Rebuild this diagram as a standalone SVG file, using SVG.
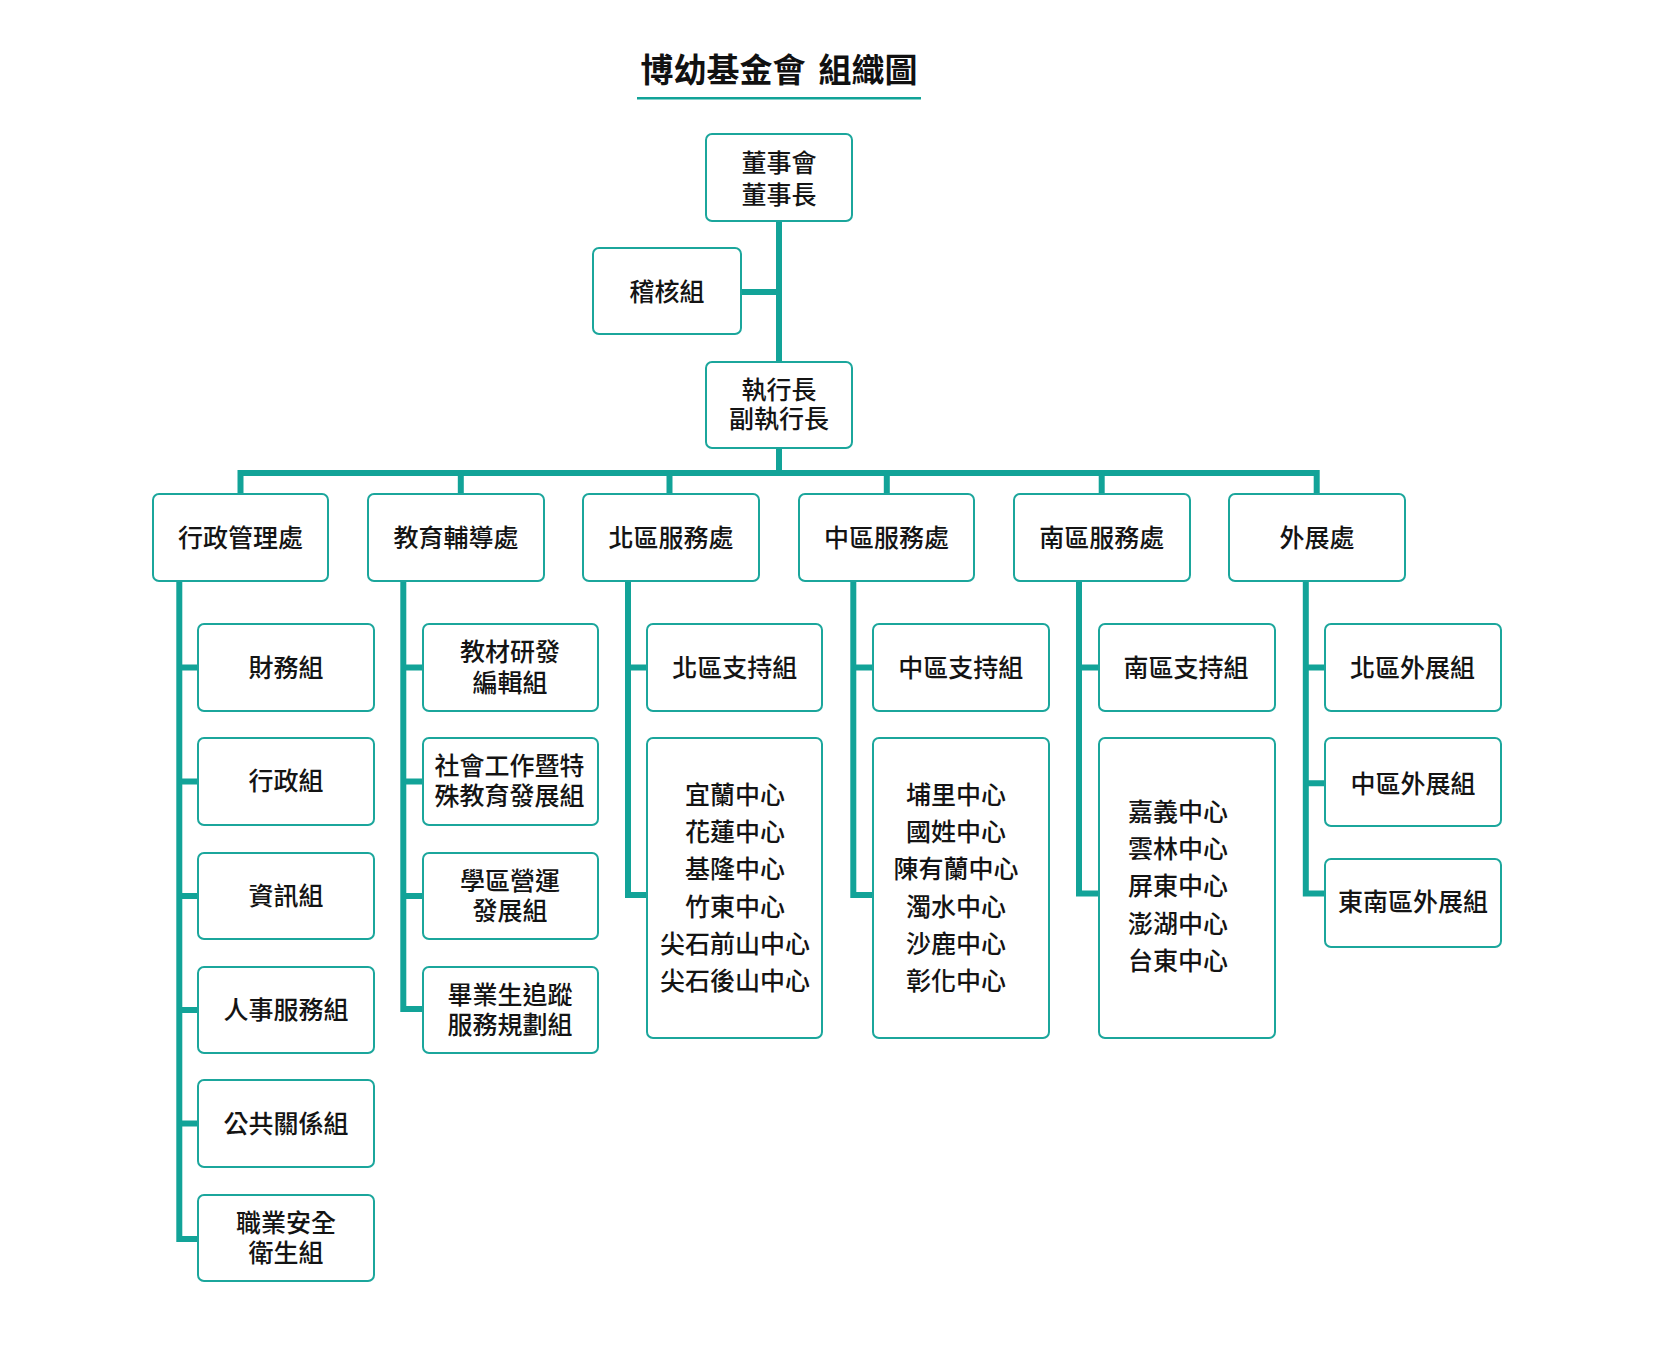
<svg xmlns="http://www.w3.org/2000/svg" width="1654" height="1364" viewBox="0 0 1654 1364">
<style>
.bg{fill:#ffffff}
.box{fill:#ffffff;stroke:#1ba69c;stroke-width:2}
.ln{fill:none;stroke:#12a398;stroke-width:6;stroke-linejoin:miter;stroke-linecap:butt}
.t{font-family:"Noto Sans CJK TC","Noto Sans CJK SC",sans-serif;font-size:25px;font-weight:500;fill:#141414;text-anchor:middle}
.title{font-family:"Noto Sans CJK TC","Noto Sans CJK SC",sans-serif;font-size:33px;font-weight:700;fill:#111111}
</style>
<rect class="bg" x="0" y="0" width="1654" height="1364"/>

<g id="title">
<text class="title" y="81.5"><tspan x="640.5">博幼基金會</tspan><tspan x="818.5">組織圖</tspan></text>
<rect x="637" y="97" width="284" height="2.5" fill="#12a398"/>
</g>

<g id="connectors">
<path class="ln" d="M779,222 V473"/>
<path class="ln" d="M742,292 H779"/>
<path class="ln" d="M240.5,494 V473 H1316.7 V494"/>
<path class="ln" d="M460.8,473 V494"/>
<path class="ln" d="M669.5,473 V494"/>
<path class="ln" d="M886.8,473 V494"/>
<path class="ln" d="M1101.7,473 V494"/>
<!-- col1 -->
<path class="ln" d="M179.3,582 V1239 H198"/>
<path class="ln" d="M179.3,667.5 H198 M179.3,781.5 H198 M179.3,896 H198 M179.3,1010 H198 M179.3,1123.5 H198"/>
<!-- col2 -->
<path class="ln" d="M403.3,582 V1009 H422"/>
<path class="ln" d="M403.3,667.5 H422 M403.3,781.5 H422 M403.3,896 H422"/>
<!-- col3 -->
<path class="ln" d="M628,582 V895 H646"/>
<path class="ln" d="M628,667.5 H646"/>
<!-- col4 -->
<path class="ln" d="M853.3,582 V895 H872"/>
<path class="ln" d="M853.3,667.5 H872"/>
<!-- col5 -->
<path class="ln" d="M1079,582 V893.5 H1098"/>
<path class="ln" d="M1079,667.5 H1098"/>
<!-- col6 -->
<path class="ln" d="M1305.8,582 V893.5 H1324"/>
<path class="ln" d="M1305.8,667.5 H1324 M1305.8,783.3 H1324"/>
</g>

<g id="n-board"><rect class="box" x="706" y="134" width="146" height="87" rx="6"/><text class="t" x="779"><tspan x="779" y="171.8">董事會</tspan><tspan x="779" y="203.5">董事長</tspan></text></g>
<g id="n-audit"><rect class="box" x="593" y="248" width="148" height="86" rx="6"/><text class="t" x="667" y="300.5">稽核組</text></g>
<g id="n-ceo"><rect class="box" x="706" y="362" width="146" height="86" rx="6"/><text class="t"><tspan x="779" y="398.5">執行長</tspan><tspan x="779" y="428">副執行長</tspan></text></g>

<g id="n-admin"><rect class="box" x="153" y="494" width="175" height="87" rx="6"/><text class="t" x="240.5" y="547">行政管理處</text></g>
<g id="n-edu"><rect class="box" x="368" y="494" width="176" height="87" rx="6"/><text class="t" x="456" y="547">教育輔導處</text></g>
<g id="n-north"><rect class="box" x="583" y="494" width="176" height="87" rx="6"/><text class="t" x="671" y="547">北區服務處</text></g>
<g id="n-central"><rect class="box" x="799" y="494" width="175" height="87" rx="6"/><text class="t" x="886.5" y="547">中區服務處</text></g>
<g id="n-south"><rect class="box" x="1014" y="494" width="176" height="87" rx="6"/><text class="t" x="1101.7" y="547">南區服務處</text></g>
<g id="n-ext"><rect class="box" x="1229" y="494" width="176" height="87" rx="6"/><text class="t" x="1317" y="547">外展處</text></g>

<g id="n-finance"><rect class="box" x="198" y="624" width="176" height="87" rx="6"/><text class="t" x="286" y="676.5">財務組</text></g>
<g id="n-adm"><rect class="box" x="198" y="738" width="176" height="87" rx="6"/><text class="t" x="286" y="789.5">行政組</text></g>
<g id="n-it"><rect class="box" x="198" y="853" width="176" height="86" rx="6"/><text class="t" x="286" y="904.5">資訊組</text></g>
<g id="n-hr"><rect class="box" x="198" y="967" width="176" height="86" rx="6"/><text class="t" x="286" y="1018.5">人事服務組</text></g>
<g id="n-pr"><rect class="box" x="198" y="1080" width="176" height="87" rx="6"/><text class="t" x="286" y="1133.2">公共關係組</text></g>
<g id="n-safety"><rect class="box" x="198" y="1195" width="176" height="86" rx="6"/><text class="t"><tspan x="286" y="1232">職業安全</tspan><tspan x="286" y="1262">衛生組</tspan></text></g>

<g id="n-material"><rect class="box" x="423" y="624" width="175" height="87" rx="6"/><text class="t"><tspan x="510" y="661.2">教材研發</tspan><tspan x="510" y="692">編輯組</tspan></text></g>
<g id="n-social"><rect class="box" x="423" y="738" width="175" height="87" rx="6"/><text class="t"><tspan x="509.5" y="774.5">社會工作暨特</tspan><tspan x="509.5" y="805">殊教育發展組</tspan></text></g>
<g id="n-district"><rect class="box" x="423" y="853" width="175" height="86" rx="6"/><text class="t"><tspan x="510" y="889.5">學區營運</tspan><tspan x="510" y="919.5">發展組</tspan></text></g>
<g id="n-grad"><rect class="box" x="423" y="967" width="175" height="86" rx="6"/><text class="t"><tspan x="510" y="1003.5">畢業生追蹤</tspan><tspan x="510" y="1033.5">服務規劃組</tspan></text></g>

<g id="n-north-support"><rect class="box" x="647" y="624" width="175" height="87" rx="6"/><text class="t" x="734.7" y="676.5">北區支持組</text></g>
<g id="n-north-centers"><rect class="box" x="647" y="738" width="175" height="300" rx="6"/><text class="t"><tspan x="735" y="803.5">宜蘭中心</tspan><tspan x="735" y="840.8">花蓮中心</tspan><tspan x="735" y="878.2">基隆中心</tspan><tspan x="735" y="915.5">竹東中心</tspan><tspan x="735" y="952.8">尖石前山中心</tspan><tspan x="735" y="990.2">尖石後山中心</tspan></text></g>

<g id="n-central-support"><rect class="box" x="873" y="624" width="176" height="87" rx="6"/><text class="t" x="960.8" y="676.5">中區支持組</text></g>
<g id="n-central-centers"><rect class="box" x="873" y="738" width="176" height="300" rx="6"/><text class="t"><tspan x="956" y="803.5">埔里中心</tspan><tspan x="956" y="840.8">國姓中心</tspan><tspan x="956" y="878.2">陳有蘭中心</tspan><tspan x="956" y="915.5">濁水中心</tspan><tspan x="956" y="952.8">沙鹿中心</tspan><tspan x="956" y="990.2">彰化中心</tspan></text></g>

<g id="n-south-support"><rect class="box" x="1099" y="624" width="176" height="87" rx="6"/><text class="t" x="1186" y="676.5">南區支持組</text></g>
<g id="n-south-centers"><rect class="box" x="1099" y="738" width="176" height="300" rx="6"/><text class="t"><tspan x="1178" y="820.5">嘉義中心</tspan><tspan x="1178" y="857.8">雲林中心</tspan><tspan x="1178" y="895.2">屏東中心</tspan><tspan x="1178" y="932.5">澎湖中心</tspan><tspan x="1178" y="969.8">台東中心</tspan></text></g>

<g id="n-ext-north"><rect class="box" x="1325" y="624" width="176" height="87" rx="6"/><text class="t" x="1412.5" y="676.5">北區外展組</text></g>
<g id="n-ext-central"><rect class="box" x="1325" y="738" width="176" height="88" rx="6"/><text class="t" x="1413" y="793">中區外展組</text></g>
<g id="n-ext-southeast"><rect class="box" x="1325" y="859" width="176" height="88" rx="6"/><text class="t" x="1413" y="911">東南區外展組</text></g>
</svg>
